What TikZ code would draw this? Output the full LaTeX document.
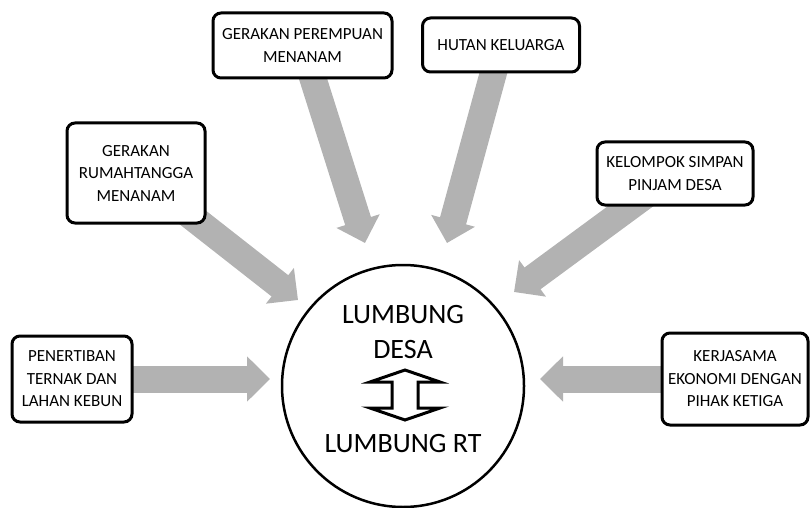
\documentclass[tikz,border=0pt]{standalone}
\usepackage{fontspec}
\setmainfont{Carlito}
\usetikzlibrary{arrows.meta, backgrounds}
\definecolor{flowgray}{RGB}{178,178,178}

\begin{document}
\begin{tikzpicture}[x=1pt, y=-1pt,
    box/.style={draw, line width=3pt, rounded corners=8pt, fill=white, align=center, inner sep=0pt, font=\fontsize{17}{22.5}\selectfont},
    flow/.style={draw=flowgray, line width=27pt, -{Triangle[length=23pt, width=44pt]}}]
    \useasboundingbox (0,0) rectangle (811,508);
    % centre: lumbung
    \node[draw, circle, line width=2.5pt, minimum size=242pt] (lumbung) at (403,386) {};
    \node[align=center, font=\fontsize{28}{35}\selectfont] (desa) at (403,332) {LUMBUNG\\DESA};
    \node[font=\fontsize{28}{35}\selectfont] (rt) at (403,444) {LUMBUNG RT};
    \draw[line width=3pt, fill=white, miter limit=10]
        (405,370) -- (440,382) -- (418,382) -- (418,408) -- (440,408) -- (405,420)
        -- (370,408) -- (392,408) -- (392,382) -- (370,382) -- cycle;
    % programmes
    \node[box, minimum width=120pt, minimum height=86pt] (tertib) at (72,379) {PENERTIBAN\\TERNAK DAN\\LAHAN KEBUN};
    \node[box, minimum width=146pt, minimum height=92pt] (kerjasama) at (735,379) {KERJASAMA\\EKONOMI DENGAN\\PIHAK KETIGA};
    \node[box, minimum width=138pt, minimum height=100pt] (rumah) at (136,173) {GERAKAN\\RUMAHTANGGA\\MENANAM};
    \node[box, minimum width=179pt, minimum height=65pt] (perempuan) at (302.5,45.5) {GERAKAN PEREMPUAN\\MENANAM};
    \node[box, minimum width=157pt, minimum height=54pt] (hutan) at (501,45) {HUTAN KELUARGA};
    \node[box, minimum width=156pt, minimum height=63pt] (simpan) at (675,173.5) {KELOMPOK SIMPAN\\PINJAM DESA};
    % arrow tips
    \coordinate (t1) at (270,379);
    \coordinate (t2) at (540,379);
    \coordinate (t3) at (298,300);
    \coordinate (t4) at (365,243);
    \coordinate (t5) at (447,243);
    \coordinate (t6) at (514,292);
    \begin{scope}[on background layer]
        \draw[flow] (tertib.center) -- (t1);
        \draw[flow] (kerjasama.center) -- (t2);
        \draw[flow] (rumah.center) -- (t3);
        \draw[flow] (perempuan.center) -- (t4);
        \draw[flow] (hutan.center) -- (t5);
        \draw[flow] (simpan.center) -- (t6);
    \end{scope}
\end{tikzpicture}
\end{document}
